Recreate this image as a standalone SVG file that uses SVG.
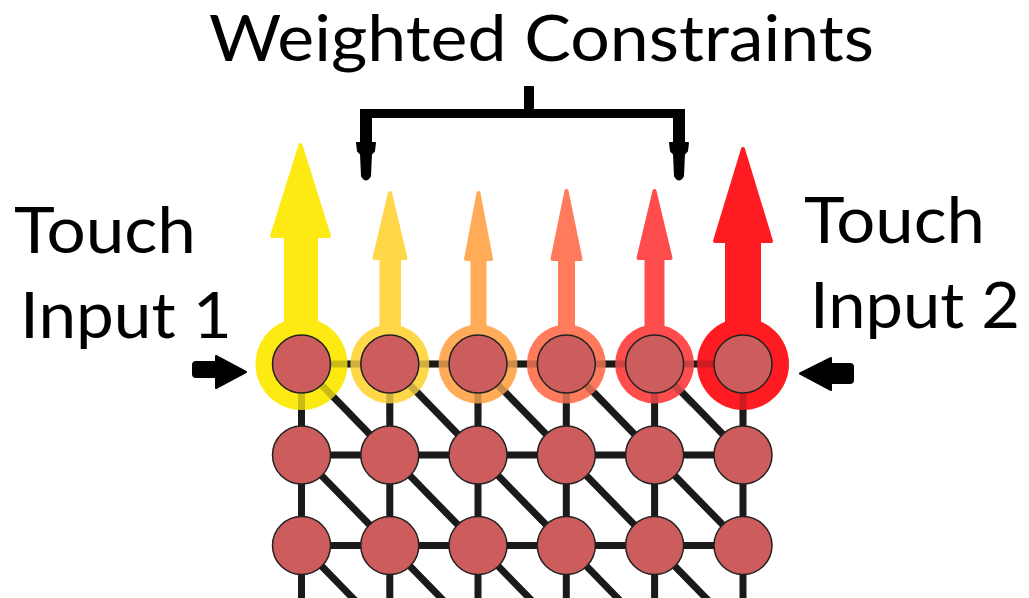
<svg xmlns="http://www.w3.org/2000/svg" width="1029" height="598" viewBox="0 0 1029 598">
  <defs>
    <style>
      .label { font-family: Lato, "Open Sans", "Liberation Sans", sans-serif; font-size: 64px; fill: #000; }
      .edge { stroke: #1a1a1a; stroke-width: 7; fill: none; }
      .edge-tint { stroke: #1a1a1a; stroke-width: 7; fill: none; opacity: 0.22; }
      .node { fill: #cd5c5c; stroke: #222; stroke-width: 1.5; }
      .blk { fill: #000; stroke: #000; stroke-width: 2; stroke-linejoin: round; }
      .force { stroke-width: 4; stroke-linejoin: round; }
    </style>
  </defs>

  <rect width="1029" height="598" fill="#fff"/>

  <!-- labels -->
  <text class="label" x="209" y="61" textLength="665" lengthAdjust="spacingAndGlyphs">Weighted Constraints</text>
  <text class="label" x="14" y="253" textLength="182" lengthAdjust="spacingAndGlyphs">Touch</text>
  <text class="label" x="20" y="338" textLength="212" lengthAdjust="spacingAndGlyphs">Input 1</text>
  <text class="label" x="804" y="243" textLength="181" lengthAdjust="spacingAndGlyphs">Touch</text>
  <text class="label" x="810" y="328" textLength="210" lengthAdjust="spacingAndGlyphs">Input 2</text>

  <!-- bracket pointing at the weighted constraints -->
  <g id="bracket">
    <rect class="blk" x="525" y="87" width="8" height="24"/>
    <rect class="blk" x="361" y="110" width="323" height="7"/>
    <rect class="blk" x="361" y="110" width="10" height="34"/>
    <rect class="blk" x="674" y="110" width="10" height="34"/>
    <path class="blk" d="M357,143 L375,143 L374,151 L371,154 L370,176 Q366,183 362,176 L361,154 L358,151 Z"/>
    <path class="blk" d="M670,143 L688,143 L687,151 L684,154 L683,176 Q679,183 675,176 L674,154 L671,151 Z"/>
  </g>

  <!-- touch input arrows -->
  <g id="touch-arrow-1">
    <rect class="blk" x="193" y="362" width="25" height="15" rx="3"/>
    <path class="blk" d="M216,356 L246,372 L216,388 Z"/>
  </g>
  <g id="touch-arrow-2">
    <rect class="blk" x="829" y="364" width="24" height="19" rx="3"/>
    <path class="blk" d="M831,358 L800,373.5 L831,390 Z"/>
  </g>

  <!-- mesh connectors -->
  <g id="connectors">
    <path class="edge" d="M301.5,364 H743 M301.5,455 H743 M301.5,545.5 H743"/>
    <path class="edge" d="M301.5,364 V640 M389.8,364 V640 M478,364 V640 M566.3,364 V640 M654.6,364 V640 M743,364 V640"/>
    <path class="edge" d="M301.5,364 L389.8,455 M389.8,364 L478,455 M478,364 L566.3,455 M566.3,364 L654.6,455 M654.6,364 L743,455
                          M301.5,455 L389.8,545.5 M389.8,455 L478,545.5 M478,455 L566.3,545.5 M566.3,455 L654.6,545.5 M654.6,455 L743,545.5
                          M301.5,545.5 L389.8,636 M389.8,545.5 L478,636 M478,545.5 L566.3,636 M566.3,545.5 L654.6,636 M654.6,545.5 L743,636"/>
  </g>

  <!-- constraint forces on the top row -->
  <g id="force-1">
    <circle cx="301.5" cy="364" r="46" fill="#fcea12"/>
    <path class="force" fill="#fcea12" stroke="#fcea12" d="M286,324 L286,236 L272,236 L300.5,145 L329,236 L316,236 L316,324 Z"/>
  </g>
  <g id="force-2">
    <circle cx="389.8" cy="364" r="39.5" fill="#ffd84a"/>
    <path class="force" fill="#ffd84a" stroke="#ffd84a" d="M381.5,328 L381.5,258 L374.5,258 L390,193 L405.5,258 L399,258 L399,328 Z"/>
  </g>
  <g id="force-3">
    <circle cx="478" cy="364" r="39.5" fill="#ffab57"/>
    <path class="force" fill="#ffab57" stroke="#ffab57" d="M472.5,328 L472.5,259 L466,259 L478.5,193 L491,259 L484.5,259 L484.5,328 Z"/>
  </g>
  <g id="force-4">
    <circle cx="566.3" cy="364" r="39.5" fill="#ff7b5b"/>
    <path class="force" fill="#ff7b5b" stroke="#ff7b5b" d="M560,328 L560,259 L552.5,259 L566.5,191 L580.5,259 L573,259 L573,328 Z"/>
  </g>
  <g id="force-5">
    <circle cx="654.6" cy="364" r="39.5" fill="#ff4d4d"/>
    <path class="force" fill="#ff4d4d" stroke="#ff4d4d" d="M646.5,328 L646.5,258 L638.5,258 L654.5,191 L670.5,258 L662.5,258 L662.5,328 Z"/>
  </g>
  <g id="force-6">
    <circle cx="743" cy="364" r="46" fill="#ff1b22"/>
    <path class="force" fill="#ff1b22" stroke="#ff1b22" d="M727,324 L727,241 L715,241 L743,149 L771,241 L759,241 L759,324 Z"/>
  </g>

  <!-- edges showing faintly through the force rings -->
  <path class="edge-tint" d="M301.5,364 H743 M301.5,364 V420 M389.8,364 V420 M478,364 V420 M566.3,364 V420 M654.6,364 V420 M743,364 V420
                             M301.5,364 L340,404 M389.8,364 L428,404 M478,364 L516,404 M566.3,364 L604,404 M654.6,364 L692,404"/>

  <!-- mesh nodes -->
  <g id="node-r1c1"><circle class="node" cx="301.5" cy="364" r="29"/></g>
  <g id="node-r1c2"><circle class="node" cx="389.8" cy="364" r="29"/></g>
  <g id="node-r1c3"><circle class="node" cx="478" cy="364" r="29"/></g>
  <g id="node-r1c4"><circle class="node" cx="566.3" cy="364" r="29"/></g>
  <g id="node-r1c5"><circle class="node" cx="654.6" cy="364" r="29"/></g>
  <g id="node-r1c6"><circle class="node" cx="743" cy="364" r="29"/></g>

  <g id="node-r2c1"><circle class="node" cx="301.5" cy="455" r="29"/></g>
  <g id="node-r2c2"><circle class="node" cx="389.8" cy="455" r="29"/></g>
  <g id="node-r2c3"><circle class="node" cx="478" cy="455" r="29"/></g>
  <g id="node-r2c4"><circle class="node" cx="566.3" cy="455" r="29"/></g>
  <g id="node-r2c5"><circle class="node" cx="654.6" cy="455" r="29"/></g>
  <g id="node-r2c6"><circle class="node" cx="743" cy="455" r="29"/></g>

  <g id="node-r3c1"><circle class="node" cx="301.5" cy="545.5" r="29"/></g>
  <g id="node-r3c2"><circle class="node" cx="389.8" cy="545.5" r="29"/></g>
  <g id="node-r3c3"><circle class="node" cx="478" cy="545.5" r="29"/></g>
  <g id="node-r3c4"><circle class="node" cx="566.3" cy="545.5" r="29"/></g>
  <g id="node-r3c5"><circle class="node" cx="654.6" cy="545.5" r="29"/></g>
  <g id="node-r3c6"><circle class="node" cx="743" cy="545.5" r="29"/></g>
</svg>
